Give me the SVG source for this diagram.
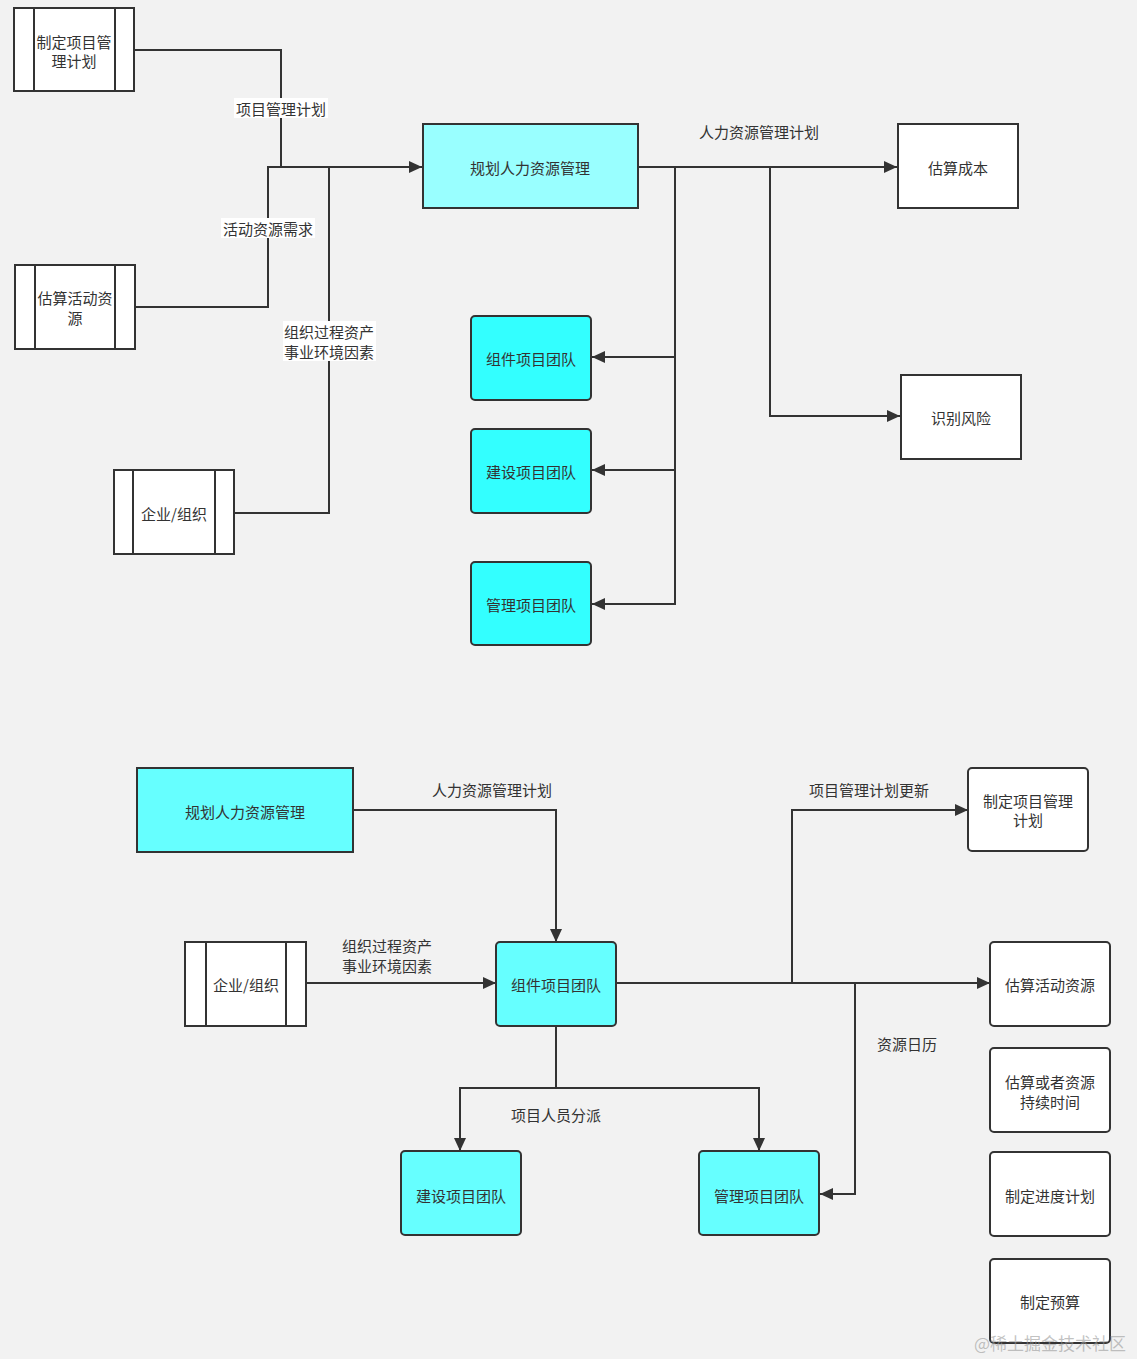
<svg xmlns="http://www.w3.org/2000/svg" width="1137" height="1359" viewBox="0 0 1137 1359">
<defs>
<style>
.bg{fill:#f2f2f2}
.box{stroke:#333;stroke-width:2}
.w{fill:#fff}
.c1{fill:#99ffff}
.c2{fill:#33ffff}
.c3{fill:#66ffff}
.in{stroke:#333;stroke-width:2;fill:none}
.t{font-family:"Noto Sans CJK SC","Noto Sans",sans-serif;font-size:15px;fill:#333;text-anchor:middle;dominant-baseline:central}
.ln{fill:none;stroke:#333;stroke-width:2}
.lb{fill:#fff}
</style>
<marker id="ar" markerUnits="userSpaceOnUse" markerWidth="14" markerHeight="12" refX="13" refY="6" orient="auto">
<path d="M0,0 L13,6 L0,12 z" fill="#333"/>
</marker>
</defs>
<rect class="bg" x="0" y="0" width="1137" height="1359"/>

<g id="connectors">
<path class="ln" d="M135,50 H281 V167 H422" marker-end="url(#ar)"/>
<path class="ln" d="M135,307 H268 V167 H281"/>
<path class="ln" d="M234,513 H329 V167"/>
<path class="ln" d="M638,167 H897" marker-end="url(#ar)"/>
<path class="ln" d="M770,167 V416 H900" marker-end="url(#ar)"/>
<path class="ln" d="M675,167 V604 H592" marker-end="url(#ar)"/>
<path class="ln" d="M675,357 H592" marker-end="url(#ar)"/>
<path class="ln" d="M675,470 H592" marker-end="url(#ar)"/>
<rect class="lb" x="234" y="98" width="94" height="20"/>
<text class="t" x="281" y="108">项目管理计划</text>
<rect class="lb" x="221" y="218" width="94" height="20"/>
<text class="t" x="268" y="228">活动资源需求</text>
<rect class="lb" x="283" y="321" width="93" height="40"/>
<text class="t" x="329" y="331">组织过程资产</text>
<text class="t" x="329" y="351">事业环境因素</text>
<text class="t" x="759" y="131">人力资源管理计划</text>

<path class="ln" d="M353,810 H556 V942" marker-end="url(#ar)"/>
<path class="ln" d="M306,983 H496" marker-end="url(#ar)"/>
<path class="ln" d="M616,983 H990" marker-end="url(#ar)"/>
<path class="ln" d="M792,983 V810 H968" marker-end="url(#ar)"/>
<path class="ln" d="M855,983 V1194 H820" marker-end="url(#ar)"/>
<path class="ln" d="M556,1026 V1088 H460 V1151" marker-end="url(#ar)"/>
<path class="ln" d="M556,1088 H759 V1151" marker-end="url(#ar)"/>
<text class="t" x="492" y="789">人力资源管理计划</text>
<text class="t" x="387" y="945">组织过程资产</text>
<text class="t" x="387" y="965">事业环境因素</text>
<text class="t" x="869" y="789">项目管理计划更新</text>
<text class="t" x="907" y="1043">资源日历</text>
<text class="t" x="556" y="1114">项目人员分派</text>
</g>

<g id="n-plan-pm">
<rect class="box w" x="14" y="8" width="120" height="83"/>
<path class="in" d="M34,8 V91 M115,8 V91"/>
<text class="t" x="74" y="41">制定项目管</text>
<text class="t" x="74" y="60">理计划</text>
</g>
<g id="n-est-act">
<rect class="box w" x="15" y="265" width="120" height="84"/>
<path class="in" d="M35,265 V349 M115,265 V349"/>
<text class="t" x="75" y="297">估算活动资</text>
<text class="t" x="75" y="317">源</text>
</g>
<g id="n-org1">
<rect class="box w" x="114" y="470" width="120" height="84"/>
<path class="in" d="M133,470 V554 M215,470 V554"/>
<text class="t" x="174" y="513">企业/组织</text>
</g>
<g id="n-hr1">
<rect class="box c1" x="423" y="124" width="215" height="84"/>
<text class="t" x="530" y="167">规划人力资源管理</text>
</g>
<g id="n-cost">
<rect class="box w" x="898" y="124" width="120" height="84"/>
<text class="t" x="958" y="167">估算成本</text>
</g>
<g id="n-risk">
<rect class="box w" x="901" y="375" width="120" height="84"/>
<text class="t" x="961" y="417">识别风险</text>
</g>
<g id="n-team1">
<rect class="box c2" x="471" y="316" width="120" height="84" rx="4"/>
<text class="t" x="531" y="358">组件项目团队</text>
</g>
<g id="n-team2">
<rect class="box c2" x="471" y="429" width="120" height="84" rx="4"/>
<text class="t" x="531" y="471">建设项目团队</text>
</g>
<g id="n-team3">
<rect class="box c2" x="471" y="562" width="120" height="83" rx="4"/>
<text class="t" x="531" y="604">管理项目团队</text>
</g>

<g id="n-hr2">
<rect class="box c3" x="137" y="768" width="216" height="84"/>
<text class="t" x="245" y="811">规划人力资源管理</text>
</g>
<g id="n-org2">
<rect class="box w" x="185" y="942" width="121" height="84"/>
<path class="in" d="M206,942 V1026 M286,942 V1026"/>
<text class="t" x="246" y="984">企业/组织</text>
</g>
<g id="n-team4">
<rect class="box c3" x="496" y="942" width="120" height="84" rx="4"/>
<text class="t" x="556" y="984">组件项目团队</text>
</g>
<g id="n-team5">
<rect class="box c3" x="401" y="1151" width="120" height="84" rx="4"/>
<text class="t" x="461" y="1195">建设项目团队</text>
</g>
<g id="n-team6">
<rect class="box c3" x="699" y="1151" width="120" height="84" rx="4"/>
<text class="t" x="759" y="1195">管理项目团队</text>
</g>
<g id="n-pmplan2">
<rect class="box w" x="968" y="768" width="120" height="83" rx="4"/>
<text class="t" x="1028" y="800">制定项目管理</text>
<text class="t" x="1028" y="819">计划</text>
</g>
<g id="n-estact2">
<rect class="box w" x="990" y="942" width="120" height="84" rx="4"/>
<text class="t" x="1050" y="984">估算活动资源</text>
</g>
<g id="n-dur">
<rect class="box w" x="990" y="1048" width="120" height="84" rx="4"/>
<text class="t" x="1050" y="1081">估算或者资源</text>
<text class="t" x="1050" y="1101">持续时间</text>
</g>
<g id="n-sched">
<rect class="box w" x="990" y="1152" width="120" height="84" rx="4"/>
<text class="t" x="1050" y="1195">制定进度计划</text>
</g>
<g id="n-budget">
<rect class="box w" x="990" y="1259" width="120" height="84" rx="4"/>
<text class="t" x="1050" y="1301">制定预算</text>
</g>
<text x="1050" y="1342" font-family="Noto Sans CJK SC, sans-serif" font-size="17" fill="#999" fill-opacity="0.6" text-anchor="middle" dominant-baseline="central">@稀土掘金技术社区</text>
</svg>
